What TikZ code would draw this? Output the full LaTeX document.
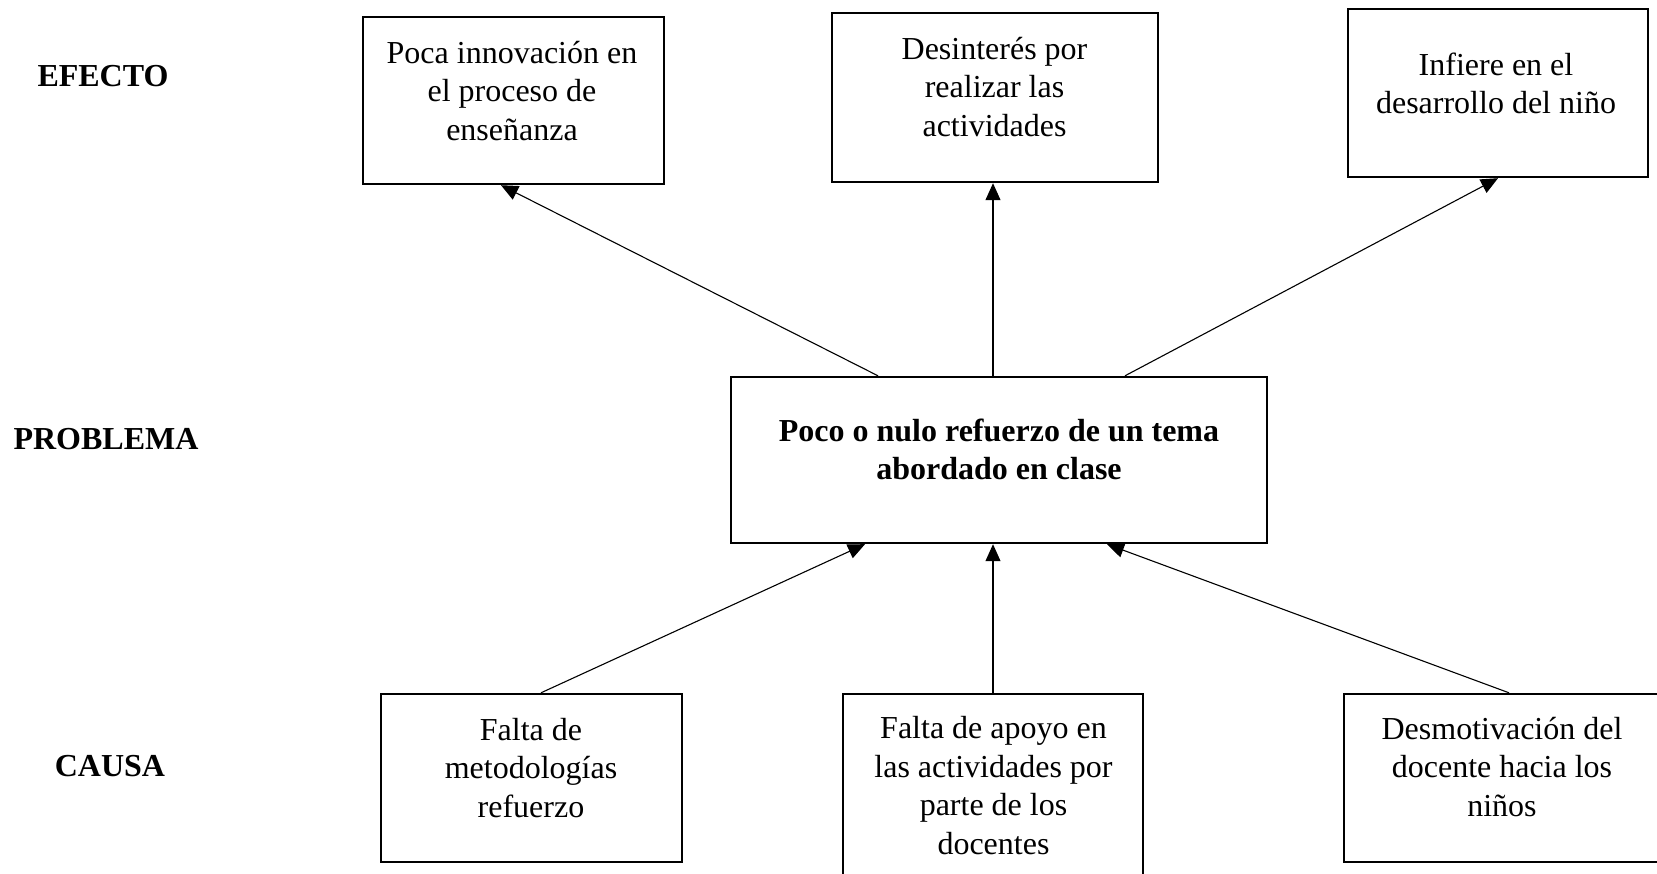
\documentclass[tikz,border=0pt]{standalone}
\usepackage{fontspec}
\setmainfont{Liberation Serif}
\usetikzlibrary{arrows.meta}
\tikzset{
  boxnode/.style={draw=black, line width=2.4pt, inner sep=0pt, fill=none},
  txt/.style={inner sep=0pt, align=center, anchor=base, font=\fontsize{32}{38.5}\selectfont},
  btxt/.style={txt, font=\fontsize{32}{38.5}\selectfont\bfseries},
  lbl/.style={inner sep=0pt, anchor=base, font=\fontsize{32}{38.5}\selectfont\bfseries},
  arr/.style={line width=1.1pt, -{Triangle[length=17pt,width=15pt]}}
}
\begin{document}
\begin{tikzpicture}[x=1pt,y=-1pt]
\useasboundingbox[fill=white] (0,0) rectangle (1657,873);
% boxes
\node[boxnode, minimum width=301pt, minimum height=167pt] (e1) at (513.5,100.5) {};
\node[boxnode, minimum width=326pt, minimum height=169pt] (e2) at (995,97.5) {};
\node[boxnode, minimum width=300pt, minimum height=168pt] (e3) at (1498,93) {};
\node[boxnode, minimum width=536pt, minimum height=166pt] (p) at (999,460) {};
\node[boxnode, minimum width=301pt, minimum height=168pt] (c1) at (531.5,778) {};
\node[boxnode, minimum width=300pt, minimum height=196pt] (c2) at (993,792) {};
\node[boxnode, minimum width=326pt, minimum height=168pt] (c3) at (1507,778) {};
% texts (anchor base = baseline of last line)
\node[txt] (te1) at (512,140) {Poca innovación en\\el proceso de\\enseñanza};
\node[txt] (te2) at (994.5,136) {Desinterés por\\realizar las\\actividades};
\node[txt] (te3) at (1496,113.5) {Infiere en el\\desarrollo del niño};
\node[btxt] (tp) at (999,479.5) {Poco o nulo refuerzo de un tema\\abordado en clase};
\node[txt] (tc1) at (531,817) {Falta de\\metodologías\\refuerzo};
\node[txt] (tc2) at (993.5,854) {Falta de apoyo en\\las actividades por\\parte de los\\docentes};
\node[txt] (tc3) at (1502,816) {Desmotivación del\\docente hacia los\\niños};
% side labels
\node[lbl] (l1) at (103,86) {EFECTO};
\node[lbl] (l2) at (106,449) {PROBLEMA};
\node[lbl] (l3) at (110,776) {CAUSA};
% connectors
\draw[arr] ([xshift=-121pt]p.north) -- ([xshift=-12.5pt]e1.south);
\draw[arr] ([xshift=-6pt]p.north) -- ([xshift=-2pt]e2.south);
\draw[arr] ([xshift=126pt]p.north) -- (e3.south);
\draw[arr] ([xshift=9.5pt]c1.north) -- ([xshift=-134pt]p.south);
\draw[arr] (c2.north) -- ([xshift=-6pt]p.south);
\draw[arr] ([xshift=2pt]c3.north) -- ([xshift=108pt]p.south);
\end{tikzpicture}
\end{document}
